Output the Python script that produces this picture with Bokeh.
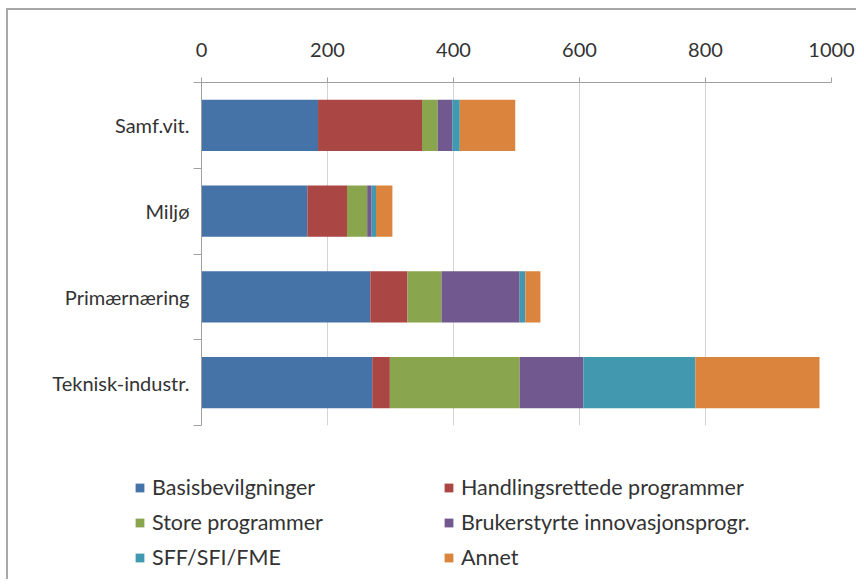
from bokeh.plotting import figure
from bokeh.layouts import column
from bokeh.models import ColumnDataSource, Range1d, FixedTicker, Legend, LegendItem
from bokeh.embed import file_html
from bokeh.resources import INLINE

categories = ["Samf.vit.", "Miljø", "Primærnæring", "Teknisk-industr."]
series_names = ["Basisbevilgninger", "Handlingsrettede programmer", "Store programmer",
                "Brukerstyrte innovasjonsprogr.", "SFF/SFI/FME", "Annet"]
basis = [185, 168, 268, 271]
handl = [165, 63, 59, 28]
store = [25, 32, 54, 206]
bruker = [23, 7, 124, 101]
sff = [12, 7, 9, 178]
annet = [88, 26, 24, 197]
x_ticks = [0, 200, 400, 600, 800, 1000]

colors = ["#4572A7", "#AA4643", "#89A54E", "#71588F", "#4198AF", "#DB843D"]
keys = ["s0", "s1", "s2", "s3", "s4", "s5"]
n = len(categories)
ypos = [n - 0.5 - i for i in range(n)]

src = ColumnDataSource(dict(y=ypos, cat=categories, s0=basis, s1=handl, s2=store,
                            s3=bruker, s4=sff, s5=annet))

FONT = "Lato"
TXT = "#333333"
AX = "#a0a0a0"

p = figure(width=848, height=430, output_backend="svg", toolbar_location=None,
           x_axis_location="above", x_range=Range1d(0, 1000), y_range=Range1d(0, n),
           min_border_left=193, min_border_right=25, min_border_top=72, min_border_bottom=15)
p.frame_align = False
p.outline_line_color = None

p.hbar_stack(keys, y="y", height=0.6, color=colors, source=src, line_color=None)

p.xaxis.ticker = FixedTicker(ticks=x_ticks)
p.xaxis.major_tick_out = 5
p.xaxis.major_tick_in = 0
p.xaxis.minor_tick_line_color = None
p.xaxis.axis_line_color = AX
p.xaxis.major_tick_line_color = AX
p.xaxis.major_label_text_font = FONT
p.xaxis.major_label_text_font_size = "20px"
p.xaxis.major_label_text_color = TXT
p.xaxis.major_label_standoff = 21

p.yaxis.ticker = FixedTicker(ticks=ypos, minor_ticks=list(range(n + 1)))
p.yaxis.major_label_overrides = {y: c for y, c in zip(ypos, categories)}
p.yaxis.major_tick_out = 0
p.yaxis.major_tick_in = 0
p.yaxis.minor_tick_out = 8
p.yaxis.minor_tick_in = 0
p.yaxis.minor_tick_line_color = AX
p.yaxis.axis_line_color = AX
p.yaxis.major_label_text_font = FONT
p.yaxis.major_label_text_font_size = "20px"
p.yaxis.major_label_text_color = TXT
p.yaxis.major_label_standoff = 4

p.xgrid.grid_line_color = "#d4d4d4"
p.xgrid.ticker = FixedTicker(ticks=x_ticks)
p.ygrid.grid_line_color = None

# legend panel: its own figure; the swatch renderers lie outside its visible ranges
p2 = figure(width=848, height=139, output_backend="svg", toolbar_location=None,
            x_axis_location=None, y_axis_location=None,
            x_range=Range1d(-3000, -2000), y_range=Range1d(20, 30),
            min_border_left=0, min_border_right=0, min_border_top=0, min_border_bottom=0)
p2.frame_align = False
p2.outline_line_color = None
p2.grid.grid_line_color = None
rs = p2.hbar_stack(keys, y="y", height=0.6, color=colors, source=src, line_color=None)

# column-major fill: column 1 = items 0, 2, 4; column 2 = items 1, 3, 5
order = [0, 2, 4, 1, 3, 5]
items = [LegendItem(label=series_names[i], renderers=[rs[i]]) for i in order]
legend = Legend(items=items, ncols=2, location=(126, 9))
legend.glyph_width = 11
legend.glyph_height = 11
legend.label_text_font = FONT
legend.label_text_font_size = "21.5px"
legend.label_text_color = TXT
legend.label_standoff = 7
legend.label_width = 282
legend.spacing = 9
legend.padding = 0
legend.margin = 0
legend.border_line_color = None
legend.background_fill_alpha = 0
p2.add_layout(legend, "center")

layout = column(p, p2, spacing=0)
layout.styles = {"border-top": "2px solid #a8a8a8", "border-left": "2px solid #a8a8a8",
                 "margin-left": "6px", "margin-top": "8px"}

open("out.html", "w").write(file_html(layout, INLINE))
